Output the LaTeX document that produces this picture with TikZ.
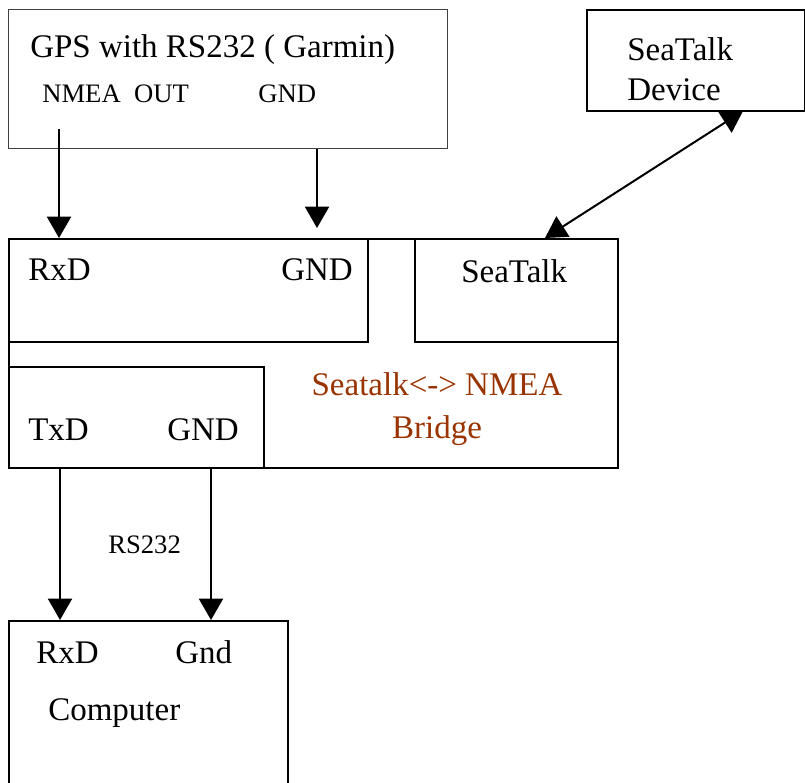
\documentclass[tikz,border=0pt]{standalone}
\usepackage{fontspec}
\setmainfont{Liberation Serif}
\usetikzlibrary{arrows.meta,positioning}

\definecolor{bridgebrown}{HTML}{993300}
\newdimen\px \px=0.75pt

\begin{document}
\begin{tikzpicture}
	% Styles
	[
	x=\px, y=-\px,
	box/.style={draw, line width=1.5pt, anchor=north west, inner sep=0pt},
	thinbox/.style={box, line width=1pt, draw=black!75},
	big/.style={anchor=base west, inner sep=0pt, font=\fontsize{24.75}{30}\selectfont},
	small/.style={anchor=base west, inner sep=0pt, font=\fontsize{20}{24}\selectfont},
	wire/.style={line width=1.5pt, -{Triangle[length=16pt,width=18pt]}},
	]
	\useasboundingbox (0,0) rectangle (805,782);
	\clip (0,0) rectangle (805,782);

	% Boxes
	\node at (8,9)     (gps)    [thinbox, minimum width=439\px, minimum height=139\px] {};
	\node at (586,9)   (dev)    [box, line width=1.2pt, minimum width=218\px, minimum height=101\px] {};
	\node at (8,238)   (bridge) [box, minimum width=609\px, minimum height=229\px] {};
	\node at (8,238)   (rxbox)  [box, minimum width=359\px, minimum height=103\px] {};
	\node at (414,238) (stbox)  [box, minimum width=203\px, minimum height=103\px] {};
	\node at (8,366)   (txbox)  [box, minimum width=255\px, minimum height=101\px] {};
	\node at (8,620)   (pc)     [box, minimum width=279\px, minimum height=190\px] {};

	% Labels
	\node at (30,57)   (gpsname) [big]   {GPS with RS232 ( Garmin)};
	\node at (42,102)  (nmeaout) [small] {NMEA\ \ OUT};
	\node at (258,102) (gpsgnd)  [small] {GND};
	\node at (627,60)  (devname) [big]   {SeaTalk};
	\node at (627,100) (devname2)[big]   {Device};
	\node at (28,280)  (rxd)     [big]   {RxD};
	\node at (281,280) (rxgnd)   [big]   {GND};
	\node at (461,282) (stport)  [big]   {SeaTalk};
	\node at (437,395) (brname)  [big, anchor=base, text=bridgebrown] {Seatalk<-> NMEA};
	\node at (437,438) (brname2) [big, anchor=base, text=bridgebrown] {Bridge};
	\node at (28,440)  (txd)     [big]   {TxD};
	\node at (167,440) (txgnd)   [big]   {GND};
	\node at (108,553) (rs)      [small] {RS232};
	\node at (36,663)  (pcrxd)   [big]   {RxD};
	\node at (175,663) (pcgnd)   [big]   {Gnd};
	\node at (48,720)  (pcname)  [big]   {Computer};

	% Connections
	\coordinate (nmeapin) at (59,129);
	\coordinate (gndpin)  at (317,228);
	\coordinate (stpin)   at (545,238);
	\coordinate (devpin)  at (743,111);
	\coordinate (txpin)   at (60,467);
	\coordinate (txgpin)  at (211,467);

	\draw[wire] (nmeapin) -- (nmeapin |- rxbox.north);
	\draw[wire] (gndpin |- gps.south) -- (gndpin);
	\draw[wire, {Triangle[length=16pt,width=18pt]}-{Triangle[length=16pt,width=18pt]}] (stpin) -- (devpin);
	\draw[wire] (txpin) -- (txpin |- pc.north);
	\draw[wire] (txgpin) -- (txgpin |- pc.north);

\end{tikzpicture}
\end{document}
